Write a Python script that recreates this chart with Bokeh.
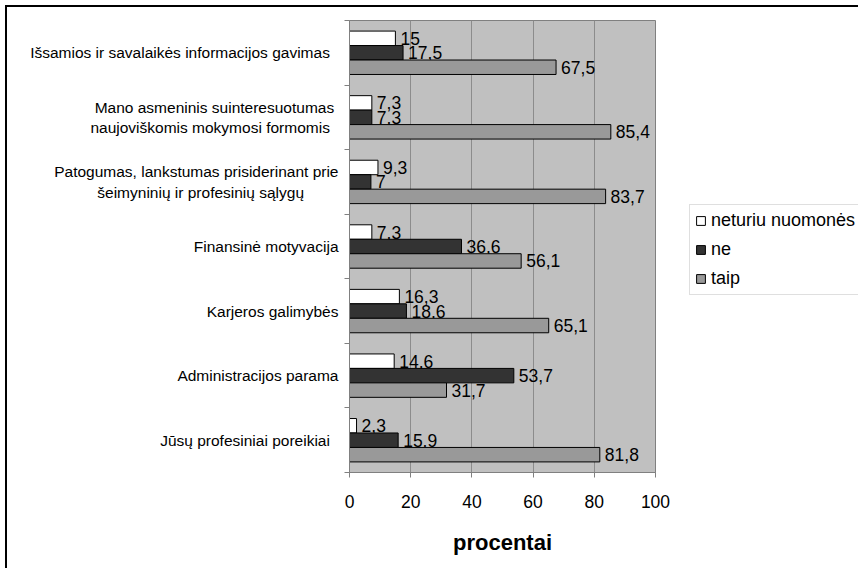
from bokeh.plotting import figure
from bokeh.models import FixedTicker, Legend, LegendItem, Range1d, ColumnDataSource
from bokeh.layouts import row
from bokeh.embed import file_html
from bokeh.resources import INLINE
from bokeh.core.properties import value

NB = "\u00a0"
categories = [
    "Išsamios ir savalaikės informacijos gavimas" + NB * 2,
    "Mano asmeninis suinteresuotumas" + NB + "\nnaujoviškomis  mokymosi formomis" + NB,
    "Patogumas, lankstumas prisiderinant prie\nšeimyninių ir profesinių sąlygų" + NB * 8,
    "Finansinė motyvacija",
    "Karjeros galimybės",
    "Administracijos parama",
    "Jūsų profesiniai poreikiai" + NB * 2,
]
neturiu = [15, 7.3, 9.3, 7.3, 16.3, 14.6, 2.3]
ne = [17.5, 7.3, 7, 36.6, 18.6, 53.7, 15.9]
taip = [67.5, 85.4, 83.7, 56.1, 65.1, 31.7, 81.8]
series_names = ["neturiu nuomonės", "ne", "taip"]
x_ticks = [0, 20, 40, 60, 80, 100]
x_label = "procentai"

FONT = "Liberation Sans"
n = len(categories)
centers = [n - 0.5 - k for k in range(n)]
bar_h = 0.224
offsets = [bar_h, 0.0, -bar_h]
colors = ["#ffffff", "#333333", "#999999"]
H = 561

def fmt(v):
    return f"{v:g}".replace(".", ",")

p = figure(width=682, height=H, x_range=Range1d(0, 100), y_range=Range1d(0, n),
           output_backend="svg", toolbar_location=None,
           min_border_left=342, min_border_right=34, min_border_top=13, min_border_bottom=96)
p.background_fill_color = "#c0c0c0"
p.border_fill_color = "white"
p.outline_line_color = "#808080"

sources = []
for vals, off, col in zip([neturiu, ne, taip], offsets, colors):
    ys = [c + off for c in centers]
    src = ColumnDataSource(dict(y=ys, right=vals, lab=[fmt(v) for v in vals]))
    sources.append(src)
    p.hbar(y="y", right="right", left=0, height=bar_h, source=src,
           fill_color=col, line_color="black", line_width=1)
    p.text(x="right", y="y", text="lab", source=src, x_offset=5,
           text_align="left", text_baseline="middle",
           text_font=value(FONT), text_font_size=value("17.5px"), text_color="black")

# x axis
p.xaxis.ticker = FixedTicker(ticks=x_ticks, minor_ticks=[])
p.xaxis.major_label_text_font = FONT
p.xaxis.major_label_text_font_size = "17.5px"
p.xaxis.major_label_text_color = "black"
p.xaxis.major_tick_out = 5
p.xaxis.major_tick_in = 0
p.xaxis.major_label_standoff = 17
p.xaxis.axis_line_color = "#808080"
p.xaxis.major_tick_line_color = "#808080"
p.xaxis.axis_label = x_label
p.xaxis.axis_label_text_font = FONT
p.xaxis.axis_label_text_font_style = "bold"
p.xaxis.axis_label_text_font_size = "22px"
p.xaxis.axis_label_text_color = "black"
p.xaxis.axis_label_standoff = 19

# y axis: category names at centres, tick marks at boundaries
p.yaxis.ticker = FixedTicker(ticks=centers, minor_ticks=list(range(n + 1)))
p.yaxis.major_label_overrides = {c: cat for c, cat in zip(centers, categories)}
p.yaxis.major_label_text_font = FONT
p.yaxis.major_label_text_font_size = "15.5px"
p.yaxis.major_label_text_color = "black"
p.yaxis.major_label_standoff = 6
p.yaxis.major_tick_out = 0
p.yaxis.major_tick_in = 0
p.yaxis.minor_tick_out = 5
p.yaxis.minor_tick_in = 0
p.yaxis.minor_tick_line_color = "#808080"
p.yaxis.axis_line_color = "#808080"

p.ygrid.visible = False
p.xgrid.grid_line_color = "#8c8c8c"
p.xgrid.grid_line_width = 1

# legend panel (separate figure to the right of the chart); its ranges keep the bars out of view
lp = figure(width=169, height=H, x_range=Range1d(-2, -1), y_range=Range1d(0, 1),
            output_backend="svg", toolbar_location=None,
            min_border_left=0, min_border_right=0, min_border_top=0, min_border_bottom=0)
lp.axis.visible = False
lp.grid.visible = False
lp.outline_line_color = None
lp.background_fill_color = "white"
lp.border_fill_color = "white"
lrs = []
for src, col in zip(sources, colors):
    lrs.append(lp.hbar(y="y", right="right", left=0, height=bar_h, source=src,
                       fill_color=col, line_color="black", line_width=1))

legend = Legend(items=[LegendItem(label=nm, renderers=[r]) for nm, r in zip(series_names, lrs)],
                location=(0, 177))
legend.label_text_font = FONT
legend.label_text_font_size = "18px"
legend.label_text_color = "black"
legend.glyph_width = 11
legend.glyph_height = 11
legend.label_standoff = 5
legend.spacing = 8
legend.padding = 5
legend.margin = 0
legend.border_line_color = "#c0c0c0"
legend.background_fill_color = "white"
legend.background_fill_alpha = 1
lp.add_layout(legend)

layout = row(p, lp)
layout.styles = {"border-left": "2px solid black", "border-top": "2px solid black",
                 "margin-left": "5px", "margin-top": "5px"}

open("out.html", "w").write(file_html(layout, INLINE))
